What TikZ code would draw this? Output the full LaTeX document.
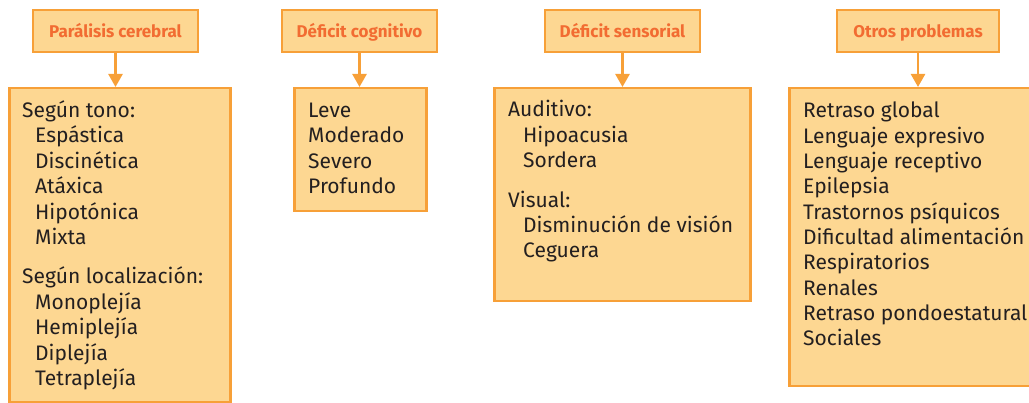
\documentclass[tikz,border=0pt]{standalone}
\usepackage{fontspec}
\setmainfont{Fira Sans}
\usepackage{tikz}
\usetikzlibrary{arrows.meta}
\definecolor{boxfill}{RGB}{253,215,146}
\definecolor{boxline}{RGB}{247,160,56}
\definecolor{titletext}{RGB}{242,108,50}
\definecolor{itemtext}{RGB}{35,31,32}
\tikzstyle{titlebox} = [draw=boxline, fill=boxfill, line width=2.5pt,
                        rectangle, minimum height=42pt, inner sep=0pt,
                        text height=14pt, text depth=0pt,
                        text=titletext, font=\fontsize{17}{20}\selectfont\bfseries]
\tikzstyle{listbox} = [titlebox, anchor=north west]
\tikzstyle{item} = [anchor=base west, inner sep=0pt, text=itemtext,
                    font=\fontsize{21}{25}\selectfont]
\tikzstyle{link} = [draw=boxline, line width=2.5pt,
                    -{Triangle[width=14pt,length=13pt]}]

\begin{document}
\begin{tikzpicture}[x=1pt,y=1pt]
  \useasboundingbox (0,0) rectangle (1029,-403);
  % titles
  \node[titlebox, minimum width=165pt] (pc) at (115.5,-31) {Parálisis cerebral};
  \node[titlebox, minimum width=155pt] (dc) at (359.5,-31) {Déficit cognitivo};
  \node[titlebox, minimum width=155pt] (ds) at (622.5,-31) {Déficit sensorial};
  \node[titlebox, minimum width=162pt] (op) at (918,-31) {Otros problemas};
  % boxes
  \node[listbox, minimum width=221pt, minimum height=314pt] (pcbox) at (8,-87) {};
  \node[listbox, minimum width=132pt, minimum height=123pt] (dcbox) at (293,-87) {};
  \node[listbox, minimum width=256pt, minimum height=213pt] (dsbox) at (493,-87) {};
  \node[listbox, minimum width=260pt, minimum height=298pt] (opbox) at (788,-87) {};
  % arrows
  \draw[link] (pc) -- (pc.south |- pcbox.north);
  \draw[link] (dc) -- (dc.south |- dcbox.north);
  \draw[link] (ds) -- (ds.south |- dsbox.north);
  \draw[link] (op) -- (op.south |- opbox.north);
  % texts
  \foreach \txt/\x/\y [count=\n] in {Según tono:/22/118, Espástica/35/143,
      Discinética/35/169, Atáxica/35/194, Hipotónica/35/220, Mixta/35/245,
      Según localización:/22/284, Monoplejía/35/310, Hemiplejía/35/335,
      Diplejía/35/361, Tetraplejía/35/386}
    \node[item] (pc\n) at (\x,-\y) {\txt};
  \foreach \txt/\y [count=\n] in {Leve/118, Moderado/143, Severo/169, Profundo/194}
    \node[item] (dc\n) at (308,-\y) {\txt};
  \foreach \txt/\x/\y [count=\n] in {Auditivo:/508/117, Hipoacusia/523/143,
      Sordera/523/168, Visual:/508/208, Disminución de visión/523/233,
      Ceguera/523/258}
    \node[item] (ds\n) at (\x,-\y) {\txt};
  \foreach \txt [count=\n] in {Retraso global, Lenguaje expresivo,
      Lenguaje receptivo, Epilepsia, Trastornos psíquicos,
      Dificultad alimentación, Respiratorios, Renales,
      Retraso pondoestatural, Sociales}
    \node[item] (op\n) at (803,{-118-25.3*(\n-1)}) {\txt};
\end{tikzpicture}
\end{document}
